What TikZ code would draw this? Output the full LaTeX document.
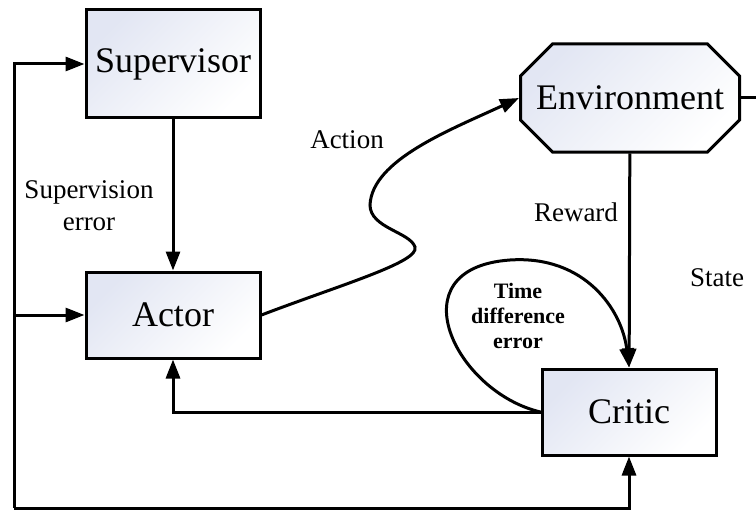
\documentclass[tikz,border=0pt]{standalone}
\usepackage{fontspec}
\setmainfont{Liberation Serif}
\usetikzlibrary{arrows.meta,shapes.misc}
\definecolor{boxblue}{RGB}{226,230,243}
\tikzset{
    block/.style={draw, line width=3pt, inner sep=0pt, top color=boxblue, bottom color=white, shading angle=45, font=\fontsize{36}{40}\selectfont},
    arr/.style={line width=3pt, -{Triangle[length=19pt,width=14pt]}},
    lbl/.style={font=\fontsize{27}{32}\selectfont, align=center}
}
\begin{document}
\begin{tikzpicture}[x=1pt, y=-1pt]
            \useasboundingbox (0,0) rectangle (756,511);

            % blocks
            \node[block, minimum width=174pt, minimum height=108pt] (sup) at (173,64) {Supervisor};
            \node[block, minimum width=174pt, minimum height=86pt] (actor) at (173,315) {Actor};
            \node[block, minimum width=174pt, minimum height=86pt] (critic) at (629,412) {Critic};
            \node[block, chamfered rectangle, chamfered rectangle xsep=20pt, chamfered rectangle ysep=20pt,
                  minimum width=219pt, minimum height=108pt] (env) at (630,98) {Environment};

            % labels
            \node[lbl] (superr) at (89,206) {Supervision\\error};
            \node[lbl] (act) at (347,140) {Action};
            \node[lbl] (rew) at (576,212) {Reward};
            \node[lbl] (state) at (717,278) {State};
            \node[font=\fontsize{22}{25}\selectfont\bfseries, align=center] (tderr) at (518,316) {Time\\difference\\error};

            \coordinate (bl) at (14,508);
            \coordinate (br) at (629,508);
            \coordinate (tap) at (14,315);
            \coordinate (edge) at (756,98);

            % connectors
            \draw[arr] (sup) -- (actor);
            \draw[arr] (env) -- (critic);
            \draw[arr] (critic.west) -| (actor.south);
            \draw[arr] (bl) |- (sup.west);
            \draw[arr] (tap) -- (actor.west);
            \draw[arr] (bl) -- (br) -- (critic.south);
            \draw[line width=3pt] (env.east) -- (edge);

            \draw[arr] (actor.east) .. controls (340,285) and (420,262) .. (415,247)
                .. controls (410,232) and (370,228) .. (370,205)
                .. controls (372,160) and (450,130) .. (env.west);

            \draw[arr] (critic.west) .. controls (455,392) and (395,268) .. (510,260)
                .. controls (585,255) and (622,310) .. (critic.north);
        \end{tikzpicture}
\end{document}
